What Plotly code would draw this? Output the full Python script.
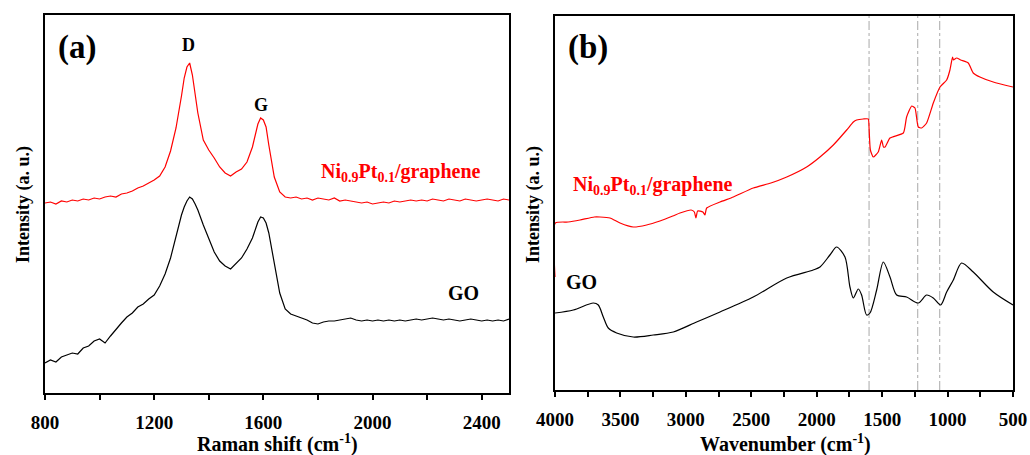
import plotly.graph_objects as go

# ---------------- (a) Raman data ----------------
raman_shift = [800, 820, 840, 860, 880, 900, 920, 940, 960, 980, 1000, 1020, 1040, 1060, 1080,
               1100, 1120, 1140, 1160, 1180, 1200, 1220, 1240, 1260, 1280, 1300, 1310, 1320,
               1330, 1340, 1350, 1360, 1380, 1400, 1420, 1440, 1460, 1480, 1500, 1520, 1540,
               1560, 1580, 1590, 1600, 1610, 1620, 1640, 1660, 1680, 1700, 1720, 1740, 1760,
               1780, 1800, 1820, 1840, 1860, 1880, 1900, 1920, 1940, 1960, 1980, 2000, 2020,
               2040, 2060, 2080, 2100, 2120, 2140, 2160, 2180, 2200, 2220, 2240, 2260, 2280,
               2300, 2320, 2340, 2360, 2380, 2400, 2420, 2440, 2460, 2480, 2500]

raman_nipt = [190, 191, 189, 192, 191, 193, 192, 194, 193, 195, 194, 196, 197, 196, 199,
              200, 202, 205, 207, 210, 213, 217, 226, 242, 265, 297, 315, 326,
              330, 318, 298, 280, 253, 243, 235, 226, 220, 217, 221, 224, 231,
              246, 269, 275, 273, 266, 248, 216, 201, 196, 195, 196, 194, 195,
              193, 195, 194, 193, 195, 192, 193, 192, 191, 190, 191, 189, 190,
              191, 190, 192, 191, 192, 193, 192, 193, 192, 194, 193, 192, 194,
              193, 192, 194, 193, 192, 193, 194, 193, 192, 194, 193]

raman_go = [30, 33, 31, 36, 38, 40, 39, 45, 47, 52, 54, 50, 57, 64, 70,
            76, 80, 86, 89, 94, 98, 107, 119, 135, 158, 178, 186, 192,
            196, 194, 189, 183, 168, 154, 141, 132, 127, 124, 129, 135, 144,
            155, 171, 176, 175, 170, 160, 128, 100, 84, 79, 77, 75, 73,
            70, 69, 71, 72, 72, 73, 74, 75, 73, 72, 73, 72, 73,
            72, 73, 72, 73, 72, 73, 74, 73, 74, 75, 74, 73, 74,
            73, 72, 73, 74, 73, 72, 73, 72, 73, 72, 74]

raman_ticks = [800, 1200, 1600, 2000, 2400]

# ---------------- (b) FTIR data ----------------
ftir_nipt_x = [4000, 3998, 3900, 3809, 3700, 3656, 3580, 3503, 3402, 3300, 3198, 3100, 3045,
               2960, 2935, 2923, 2910, 2870, 2854, 2841, 2739, 2637, 2485, 2350, 2229, 2077,
               1975, 1873, 1771, 1720, 1695, 1644, 1606, 1600, 1590, 1568, 1530, 1504, 1490,
               1478, 1440, 1338, 1313, 1274, 1249, 1224, 1198, 1160, 1109, 1058, 1007, 982,
               962, 955, 931, 900, 842, 804, 753, 651, 500]
ftir_nipt_y = [113, 167, 168, 170, 173, 173, 172, 167, 163, 165, 169, 174, 177,
               180, 178, 172, 179, 178, 175, 182, 188, 193, 202, 207, 213, 223,
               233, 245, 260, 268, 270, 271, 271, 262, 240, 233, 238, 250, 243,
               243, 252, 257, 273, 284, 282, 263, 262, 267, 287, 303, 310, 320,
               333, 330, 332, 330, 327, 317, 313, 308, 303]

ftir_go_x = [4000, 3860, 3707, 3669, 3631, 3593, 3529, 3402, 3249, 3096, 2918, 2739, 2485,
             2229, 2027, 1975, 1899, 1848, 1784, 1746, 1720, 1682, 1657, 1619, 1593, 1542,
             1491, 1440, 1389, 1313, 1224, 1160, 1109, 1053, 1007, 956, 893, 804, 651, 500]
ftir_go_y = [77, 80, 87, 85, 73, 62, 57, 53, 55, 58, 68, 78, 93,
             112, 120, 123, 135, 143, 133, 103, 92, 101, 95, 75, 77, 100,
             128, 113, 95, 93, 87, 95, 92, 85, 98, 110, 127, 118, 98, 85]

ftir_ticks = [4000, 3500, 3000, 2500, 2000, 1500, 1000, 500]
ftir_markers = [1600, 1228, 1060]

RED = "#ff0000"
BLACK = "#000000"
FONT = "Liberation Serif"

fig = go.Figure()
fig.add_trace(go.Scatter(x=raman_shift, y=raman_nipt, mode="lines",
                         line=dict(color=RED, width=1.2), xaxis="x", yaxis="y"))
fig.add_trace(go.Scatter(x=raman_shift, y=raman_go, mode="lines",
                         line=dict(color=BLACK, width=1.2), xaxis="x", yaxis="y"))
fig.add_trace(go.Scatter(x=ftir_nipt_x, y=ftir_nipt_y, mode="lines",
                         line=dict(color=RED, width=1.2, shape="spline", smoothing=0.5),
                         xaxis="x2", yaxis="y2"))
fig.add_trace(go.Scatter(x=ftir_go_x, y=ftir_go_y, mode="lines",
                         line=dict(color=BLACK, width=1.2, shape="spline", smoothing=0.8),
                         xaxis="x2", yaxis="y2"))

for m in ftir_markers:
    fig.add_shape(type="line", xref="x2", yref="y2 domain", x0=m, x1=m, y0=0, y1=1,
                  line=dict(color="#a8a8a8", width=1, dash="dashdot"), layer="below")

axis_common = dict(showline=True, linewidth=2, linecolor=BLACK, mirror=True,
                   showgrid=False, zeroline=False, automargin=False)
tickfont = dict(family=FONT, size=19, color=BLACK)

fig.update_layout(
    template="none",
    width=1030, height=455, autosize=False,
    margin=dict(l=0, r=0, t=0, b=0, pad=0),
    paper_bgcolor="white", plot_bgcolor="white",
    showlegend=False,
    xaxis=dict(domain=[45/1030, 509/1030], range=[800, 2500], anchor="y",
               tickmode="array", tickvals=raman_ticks,
               ticktext=[f"<b>{t}</b>" for t in raman_ticks],
               ticks="outside", ticklen=5, tickwidth=1.5, tickcolor=BLACK,
               ticklabelstandoff=6,
               minor=dict(dtick=200, tick0=800, ticks="outside", ticklen=5,
                          tickwidth=1.5, tickcolor=BLACK),
               tickfont=tickfont, **axis_common),
    yaxis=dict(domain=[62/455, 440/455], range=[0, 378], anchor="x",
               showticklabels=False, ticks="", **axis_common),
    xaxis2=dict(domain=[555/1030, 1013/1030], range=[4000, 500], anchor="y2",
                tickmode="array", tickvals=ftir_ticks,
                ticktext=[f"<b>{t}</b>" for t in ftir_ticks],
                ticks="outside", ticklen=5, tickwidth=1.5, tickcolor=BLACK,
                ticklabelstandoff=6,
                minor=dict(dtick=250, tick0=500, ticks="outside", ticklen=5,
                           tickwidth=1.5, tickcolor=BLACK),
                tickfont=tickfont, **axis_common),
    yaxis2=dict(domain=[65/455, 439/455], range=[0, 374], anchor="x2",
                showticklabels=False, ticks="", **axis_common),
)

def ann(text, x, y, xref, yref, size, color=BLACK, angle=0):
    fig.add_annotation(text=text, x=x, y=y, xref=xref, yref=yref, showarrow=False,
                       font=dict(family=FONT, size=size, color=color),
                       textangle=angle, xanchor="center", yanchor="middle")

# panel labels
ann("<b>(a)</b>", 77/1030, 1 - 48/455, "paper", "paper", 33)
ann("<b>(b)</b>", 588/1030, 1 - 48/455, "paper", "paper", 33)
# peak labels
ann("<b>D</b>", 1327, 348, "x", "y", 18)
ann("<b>G</b>", 1590, 288, "x", "y", 18)
# series labels
ann("<b>Ni<sub>0.9</sub>Pt<sub>0.1</sub>/graphene</b>", 2104, 221, "x", "y", 20, RED)
ann("<b>GO</b>", 2335, 100, "x", "y", 20)
ann("<b>Ni<sub>0.9</sub>Pt<sub>0.1</sub>/graphene</b>", 3250, 205, "x2", "y2", 20, RED)
ann("<b>GO</b>", 3801, 108, "x2", "y2", 20)
# axis titles
ann("<b>Raman shift (cm<sup>-1</sup>)</b>", 277/1030, 1 - 443/455, "paper", "paper", 20)
ann("<b>Wavenumber (cm<sup>-1</sup>)</b>", 785/1030, 1 - 443/455, "paper", "paper", 20)
ann("<b>Intensity (a. u.)</b>", 24/1030, 1 - 205/455, "paper", "paper", 18, angle=-90)
ann("<b>Intensity (a. u.)</b>", 534/1030, 1 - 205/455, "paper", "paper", 18, angle=-90)

fig.write_html("out.html", config={"displayModeBar": False},
               post_script="document.body.style.margin='0';document.body.style.overflow='hidden';")
